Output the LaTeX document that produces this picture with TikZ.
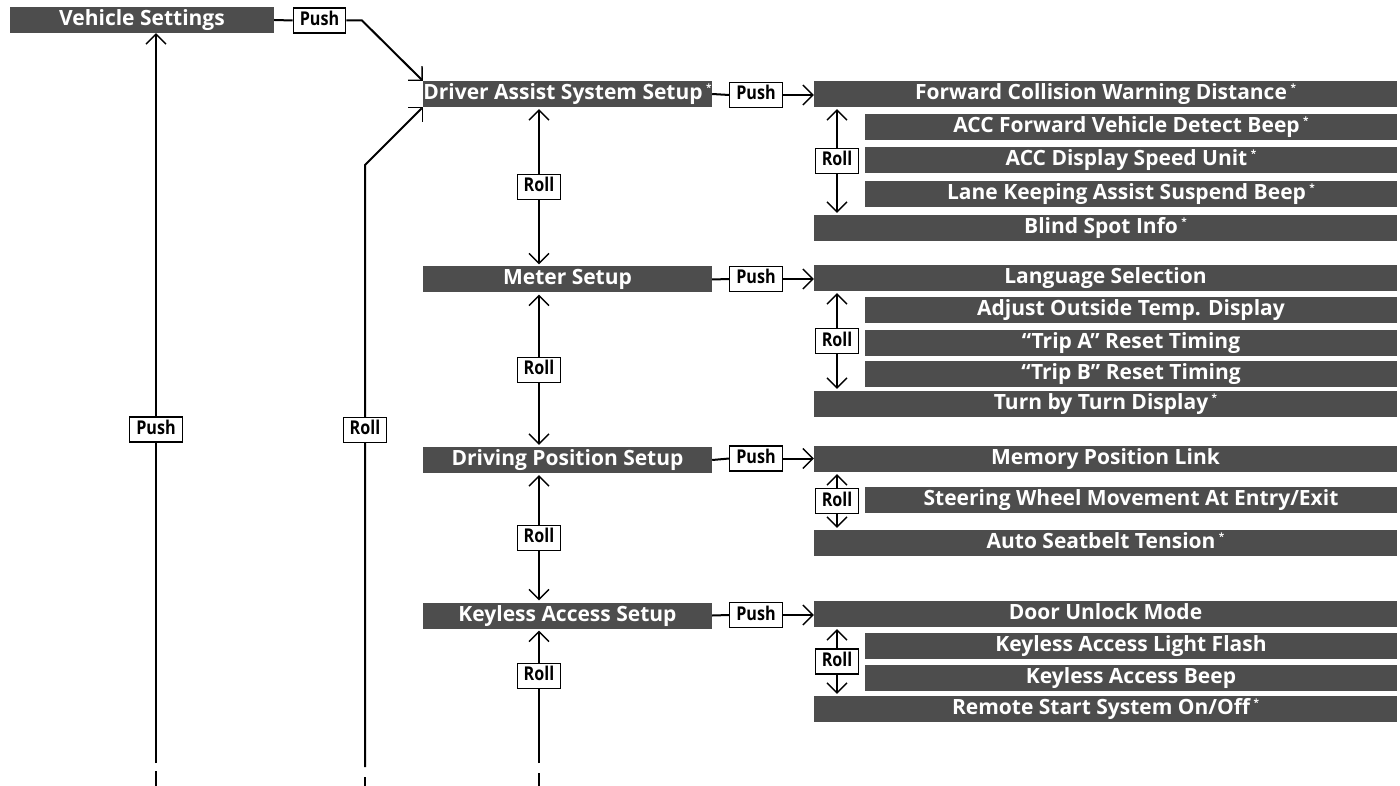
\documentclass[tikz,border=0pt]{standalone}
\usepackage{fontspec}
\setmainfont{Open Sans}
\newfontfamily\lblfont[FakeStretch=0.85]{Open Sans}
\usetikzlibrary{arrows.meta}
\definecolor{menugray}{RGB}{77,77,77}
\newcommand\opt{\,\raisebox{8pt}{\fontsize{10}{10}\selectfont *}}
\begin{document}
\begin{tikzpicture}[x=1pt,y=-1pt,
  menu/.style={fill=menugray,text=white,font=\bfseries\fontsize{21}{21}\selectfont,inner sep=0pt,minimum height=26pt,text height=15pt,text depth=4pt,anchor=center},
  lmenu/.style={menu,minimum width=289pt},
  wide/.style={menu,minimum width=583pt},
  narrow/.style={menu,minimum width=532pt},
  lbl/.style={draw,line width=1.2pt,fill=white,text=black,font=\lblfont\bfseries\fontsize{19}{19}\selectfont,inner xsep=6.5pt,inner ysep=0pt,minimum height=25pt,text height=14pt,text depth=4pt},
  conn/.style={line width=2pt},
  >={Straight Barb[length=10pt,width=20pt,line width=1.3pt]}]
\useasboundingbox (0,0) rectangle (1400,786);
% left column
\node[menu,minimum width=264pt] (vs) at (142,20) {Vehicle Settings};
\node[lmenu] (da) at (567.5,94) {Driver Assist System Setup\opt};
\node[lmenu] (ms) at (567.5,279.5) {Meter Setup};
\node[lmenu] (dp) at (567.5,460) {Driving Position Setup};
\node[lmenu] (ka) at (567.5,615.5) {Keyless Access Setup};
% push labels
\node[lbl] (p0) at (319.5,20.5) {Push};
\node[lbl] (p1) at (756,95) {Push};
\node[lbl] (p2) at (756,279) {Push};
\node[lbl] (p3) at (756,458.5) {Push};
\node[lbl] (p4) at (756,615) {Push};
% group 1
\node[wide] (a1) at (1105.5,94) {Forward Collision Warning Distance\opt};
\node[narrow] (a2) at (1131,127) {ACC Forward Vehicle Detect Beep\opt};
\node[narrow] (a3) at (1131,160) {ACC Display Speed Unit\opt};
\node[narrow] (a4) at (1131,194) {Lane Keeping Assist Suspend Beep\opt};
\node[wide] (a5) at (1105.5,228) {Blind Spot Info\opt};
% group 2
\node[wide] (b1) at (1105.5,278) {Language Selection};
\node[narrow] (b2) at (1131,310) {Adjust Outside Temp. Display};
\node[narrow] (b3) at (1131,343) {“Trip A” Reset Timing};
\node[narrow] (b4) at (1131,374) {“Trip B” Reset Timing};
\node[wide] (b5) at (1105.5,404) {Turn by Turn Display\opt};
% group 3
\node[wide] (c1) at (1105.5,459) {Memory Position Link};
\node[narrow] (c2) at (1131,500) {Steering Wheel Movement At Entry/Exit};
\node[wide] (c3) at (1105.5,543) {Auto Seatbelt Tension\opt};
% group 4
\node[wide] (d1) at (1105.5,614) {Door Unlock Mode};
\node[narrow] (d2) at (1131,645.5) {Keyless Access Light Flash};
\node[narrow] (d3) at (1131,678) {Keyless Access Beep};
\node[wide] (d4) at (1105.5,709) {Remote Start System On/Off\opt};
% coordinates
\coordinate (rx) at (837,0);
\coordinate (lx) at (539,0);
\coordinate (k0) at (362,20.5);
\coordinate (e1) at (156,763);
\coordinate (e2) at (365,767);
\coordinate (k2) at (365,165);
\coordinate (e3) at (539,763);
\coordinate (t1a) at (156,771);
\coordinate (t1b) at (156,786);
\coordinate (t2a) at (365,777);
\coordinate (t2b) at (365,786);
\coordinate (t3a) at (539,773);
\coordinate (t3b) at (539,786);
% push connectors
\draw[conn] (vs.east) -- (p0.west);
\draw[conn,->] (p0.east) -- (k0) -- (da.north west);
\draw[conn] (da.east) -- (p1.west);
\draw[conn,->] (p1.east) -- (p1.east -| a1.west);
\draw[conn] (ms.east) -- (p2.west);
\draw[conn,->] (p2.east) -- (p2.east -| b1.west);
\draw[conn] (dp.east) -- (p3.west);
\draw[conn,->] (p3.east) -- (p3.east -| c1.west);
\draw[conn] (ka.east) -- (p4.west);
\draw[conn,->] (p4.east) -- (p4.east -| d1.west);
% roll arrows, right
\draw[conn,<->,shorten <=2pt,shorten >=2pt] (a1.south -| rx) -- node[lbl] (r1) {Roll} (a5.north -| rx);
\draw[conn,<->,shorten <=2pt,shorten >=2pt] (b1.south -| rx) -- node[lbl] (r2) {Roll} (b5.north -| rx);
\draw[conn,<->,shorten <=2pt,shorten >=2pt] (c1.south -| rx) -- node[lbl] (r3) {Roll} (c3.north -| rx);
\draw[conn,<->,shorten <=2pt,shorten >=2pt] (d1.south -| rx) -- node[lbl] (r4) {Roll} (d4.north -| rx);
% roll arrows, left
\draw[conn,<->,shorten <=2pt,shorten >=2pt] (da.south -| lx) -- node[lbl] (l1) {Roll} (ms.north -| lx);
\draw[conn,<->,shorten <=2pt,shorten >=2pt] (ms.south -| lx) -- node[lbl] (l2) {Roll} (dp.north -| lx);
\draw[conn,<->,shorten <=2pt,shorten >=2pt] (dp.south -| lx) -- node[lbl] (l3) {Roll} (ka.north -| lx);
% long return lines
\draw[conn,->] (e1) -- node[lbl,pos=0.457] (bp) {Push} (vs.south -| e1);
\draw[conn,->] (e2) -- node[lbl,pos=0.56] (br) {Roll} (k2) -- (da.south west);
\draw[conn,->,shorten >=2pt] (e3) -- node[lbl,pos=0.65] (bk) {Roll} (ka.south -| e3);
\draw[conn] (t1a) -- (t1b);
\draw[conn] (t2a) -- (t2b);
\draw[conn] (t3a) -- (t3b);
\end{tikzpicture}
\end{document}
